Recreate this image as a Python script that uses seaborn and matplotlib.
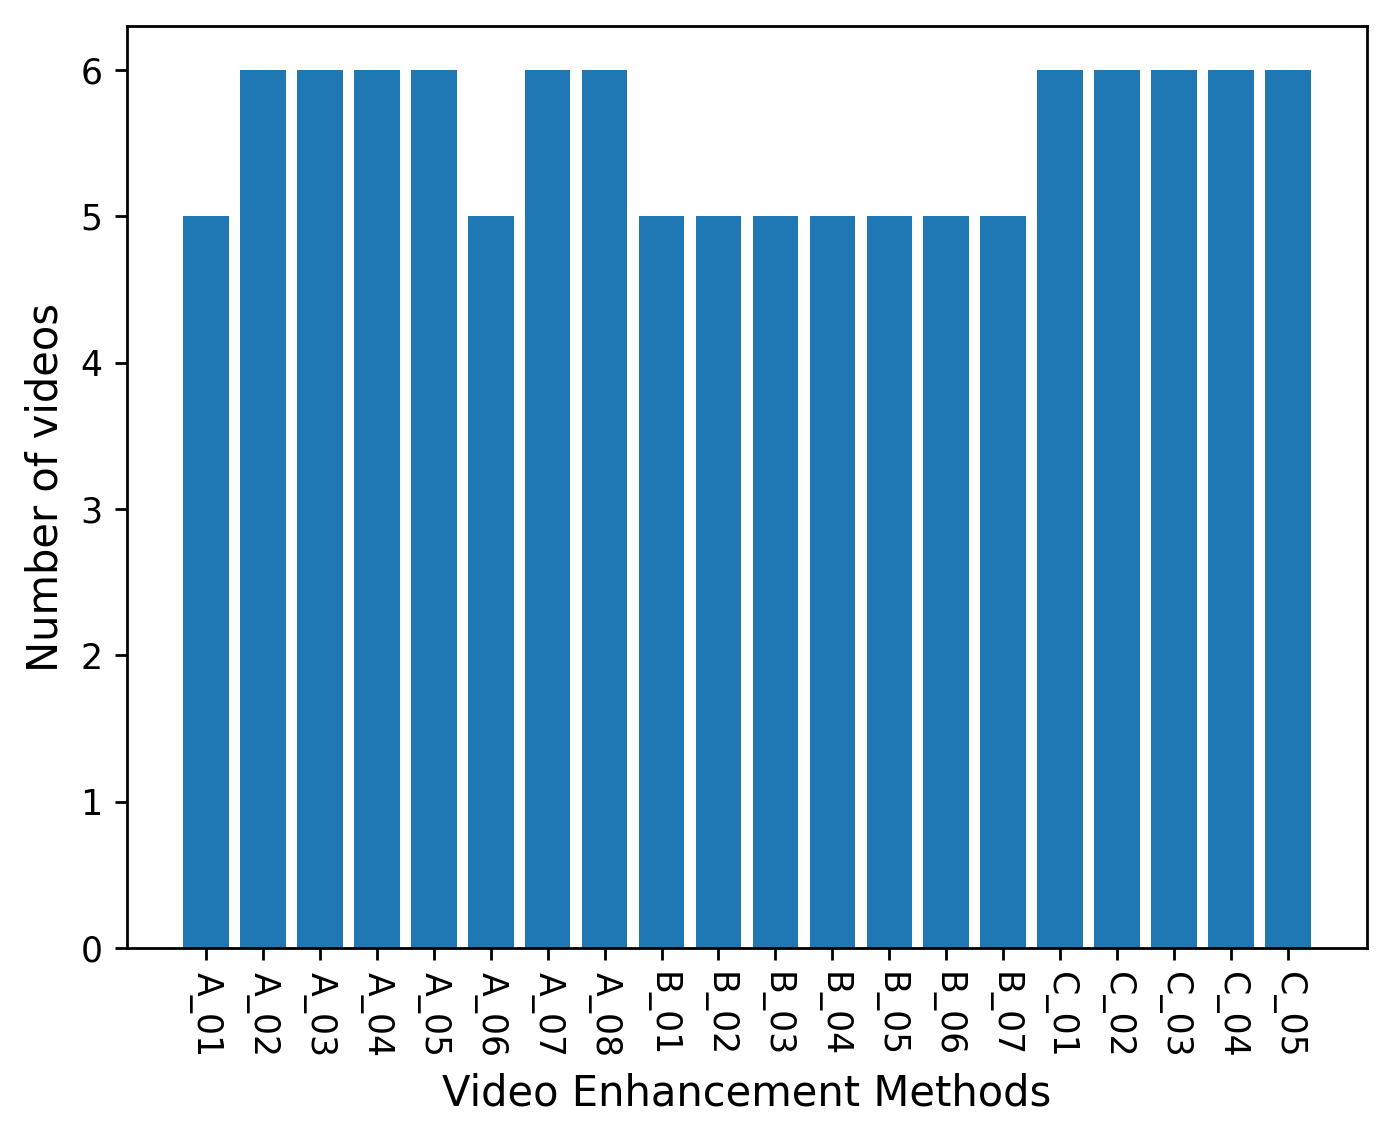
import matplotlib
matplotlib.use("Agg")
import matplotlib.pyplot as plt
import seaborn as sns
import pandas as pd

# method names and video counts
methods = ['A_01', 'A_02', 'A_03', 'A_04', 'A_05', 'A_06', 'A_07', 'A_08',
           'B_01', 'B_02', 'B_03', 'B_04', 'B_05', 'B_06', 'B_07',
           'C_01', 'C_02', 'C_03', 'C_04', 'C_05']
counts = [5, 6, 6, 6, 6, 5, 6, 6,
          5, 5, 5, 5, 5, 5, 5,
          6, 6, 6, 6, 6]

data = pd.DataFrame({'Method': methods, 'Count': counts})

sns.set_style("ticks", {'text.color': 'black', 'axes.labelcolor': 'black',
                        'xtick.color': 'black', 'ytick.color': 'black',
                        'axes.edgecolor': 'black'})
plt.rcParams['font.family'] = ['DejaVu Sans']

fig = plt.figure(figsize=(5.568, 4.56), dpi=250)
ax = fig.add_axes([0.0912, 0.1684, 0.8908, 0.8088])

sns.barplot(data=data, x='Method', y='Count', color='#1f77b4',
            saturation=1, width=0.8, linewidth=0, edgecolor='none', ax=ax)

ax.set_xlim(-1.39, 20.39)
ax.set_ylim(0, 6.3)
ax.set_xlabel('Video Enhancement Methods', fontsize=12, color='black')
ax.set_ylabel('Number of videos', fontsize=12, color='black')
ax.tick_params(axis='x', labelrotation=270, labelsize=10, colors='black')
ax.tick_params(axis='y', labelsize=10, colors='black')
for s in ax.spines.values():
    s.set_visible(True)
    s.set_linewidth(0.8)
    s.set_color('black')

fig.savefig('out.png', dpi=250)
